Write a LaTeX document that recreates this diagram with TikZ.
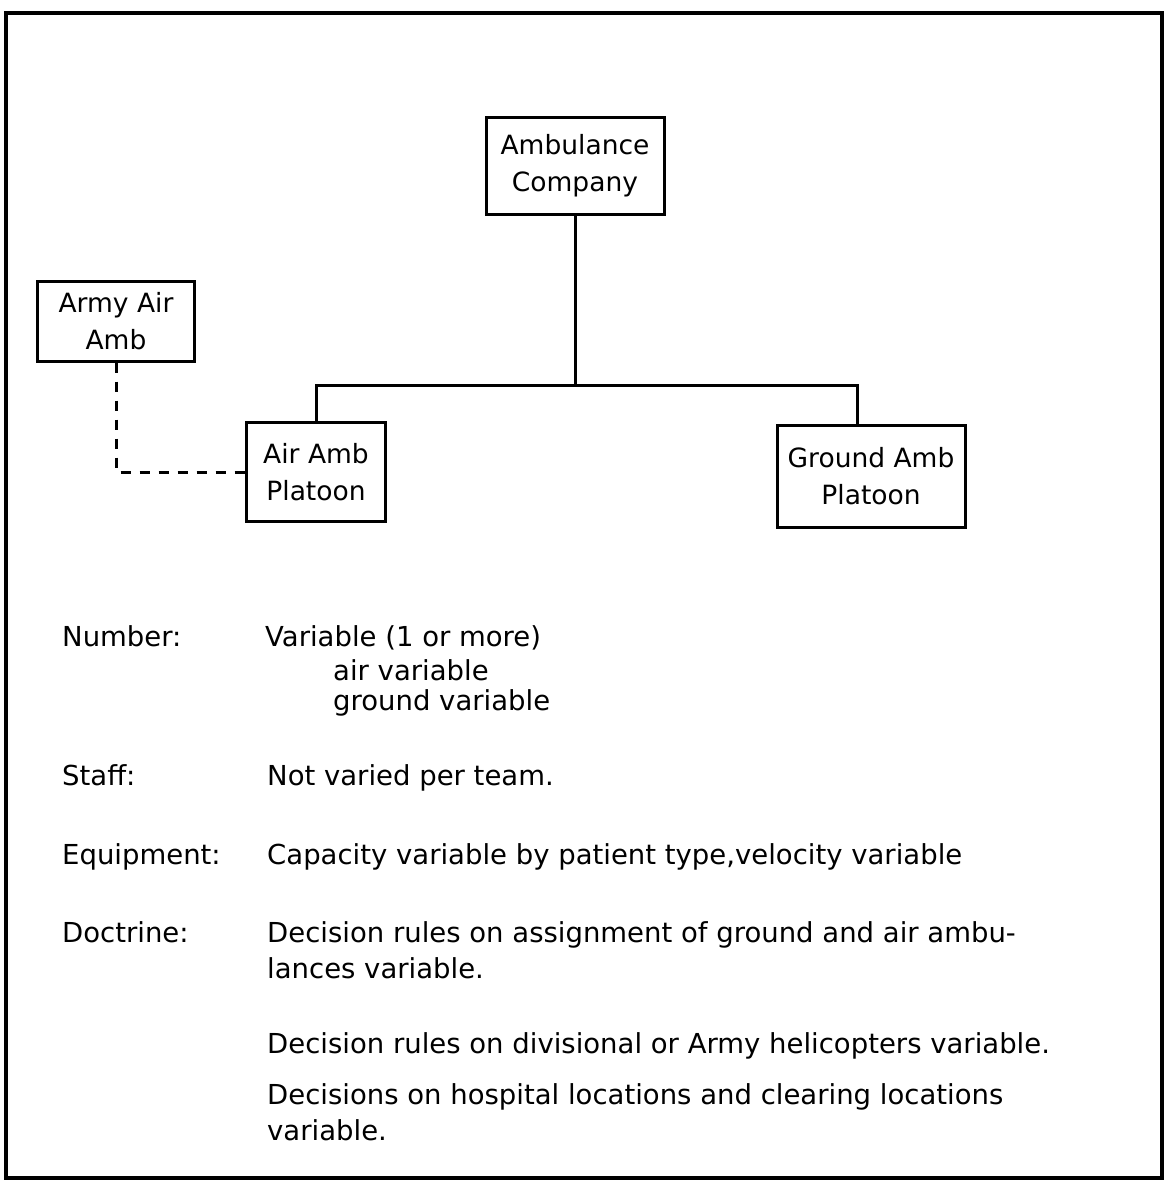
\documentclass[tikz,border=0pt]{standalone}
\usepackage{fontspec}
\setmainfont{DejaVu Sans}
\tikzset{
  unit/.style={draw,line width=3pt,align=center,inner sep=0pt,font=\fontsize{26.5}{37}\selectfont},
  link/.style={line width=3pt},
  label/.style={anchor=base west,inner sep=0pt,font=\fontsize{27.5}{36}\selectfont,align=left},
}
\begin{document}
\begin{tikzpicture}[x=1pt,y=-1pt]
  \useasboundingbox (0,0) rectangle (1168,1186);
  \draw[line width=3.2pt] (6,13) rectangle (1162,1178);
  % Upper part of the Figure
  \node[unit,minimum width=178pt,minimum height=97pt] (Co)  at (575,166) {Ambulance\\Company};
  \node[unit,minimum width=157pt,minimum height=80pt] (Aaa) at (116,321) {Army Air\\Amb};
  \node[unit,minimum width=139pt,minimum height=99pt] (Ap)  at (316,472) {Air Amb\\Platoon};
  \node[unit,minimum width=188pt,minimum height=102pt] (Gp) at (871,476) {Ground Amb\\Platoon};
  \coordinate (J) at (575,385);
  \draw[link] (Co) -- (J);
  \draw[link] (Ap.north) |- (J) -| ([xshift=-14pt]Gp.north);
  \draw[link,dash pattern=on 10pt off 9pt] (Aaa.south) |- (Ap.west);
  % Lower part of the Figure
  \node[label] (num)   at (62,646)  {Number:};
  \node[label] (numv)  at (265,646) {Variable (1 or more)};
  \node[label] (air)   at (333,680) {air variable};
  \node[label] (grd)   at (333,710) {ground variable};
  \node[label] (stf)   at (62,785)  {Staff:};
  \node[label] (stfv)  at (267,785) {Not varied per team.};
  \node[label] (eqp)   at (62,864)  {Equipment:};
  \node[label] (eqpv)  at (267,864) {Capacity variable by patient type,velocity variable};
  \node[label] (doc)   at (62,942)  {Doctrine:};
  \node[label] (docA)  at (267,978) {Decision rules on assignment of ground and air ambu-\\lances variable.};
  \node[label] (docB)  at (267,1053) {Decision rules on divisional or Army helicopters variable.};
  \node[label] (docC)  at (267,1140) {Decisions on hospital locations and clearing locations\\variable.};
\end{tikzpicture}
\end{document}
